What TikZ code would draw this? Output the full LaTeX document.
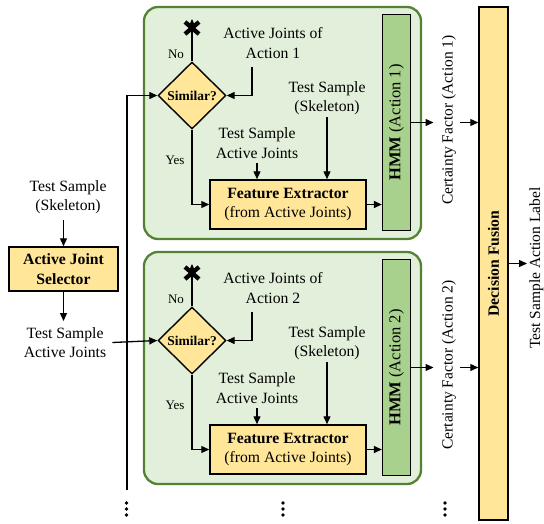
\documentclass[tikz,border=0pt]{standalone}
\usepackage{fontspec}
\setmainfont{Liberation Serif}
\usetikzlibrary{arrows.meta,shapes.geometric}
\definecolor{panelfill}{HTML}{E2EFDA}
\definecolor{paneledge}{HTML}{548235}
\definecolor{hmmfill}{HTML}{A9D18E}
\definecolor{boxfill}{HTML}{FFE699}
\begin{document}
\begin{tikzpicture}[x=1pt,y=-1pt,
  txt/.style={font=\fontsize{15.7}{19.5}\selectfont, align=center, inner sep=0pt},
  lbl/.style={font=\fontsize{13}{15}\selectfont, inner sep=0pt},
  yelbox/.style={draw=black, line width=1.5pt, fill=boxfill, inner sep=0pt,
    align=center, font=\fontsize{15.7}{19.5}\selectfont},
  panel/.style={draw=paneledge, fill=panelfill, line width=2.3pt, rounded corners=14pt},
  hmmbox/.style={draw=black, line width=1.3pt, fill=hmmfill, inner sep=0pt,
    minimum width=28pt, minimum height=216pt, font=\fontsize{16.5}{19}\selectfont},
  decision/.style={diamond, draw=black, line width=1.4pt, fill=boxfill, inner sep=0pt,
    minimum width=68pt, minimum height=67pt},
  conn/.style={line width=1.3pt, -{Triangle[length=8pt,width=7pt]}},
  cross/.style={line width=4.3pt},
  vtxt/.style={rotate=90, anchor=base, inner sep=0pt, font=\fontsize{15.5}{19.5}\selectfont},
]
\useasboundingbox (0,0) rectangle (544,523);

% left column: active joint selection
\node[txt] (skel) at (68,197) {Test Sample\\(Skeleton)};
\node[yelbox, minimum width=109pt, minimum height=44pt] (ajs) at (63.5,269)
  {\textbf{Active Joint}\\\textbf{Selector}};
\node[txt] (tsaj) at (65,342.5) {Test Sample\\Active Joints};
\draw[conn] (skel.south -| ajs) ++(0,6) -- (ajs.north);
\coordinate (ajsout) at (63.5,321);
\draw[conn] (ajs.south) -- (ajsout);

% one panel per action model
\foreach \i/\o in {1/0,2/245}{
  \path[panel] (144,7+\o) rectangle (421,239+\o);
  \node[decision] (sim\i) at (192,95.5+\o) {};
  \node[lbl, font=\fontsize{13.5}{15}\selectfont\bfseries] (simtxt\i) at (sim\i) {Similar?};
  \node[yelbox, minimum width=156pt, minimum height=49pt] (fe\i) at (288,204.5+\o)
    {\textbf{Feature Extractor}\\(from Active Joints)};
  \node[hmmbox] (hmm\i) at (396.5,122.5+\o)
    {\rotatebox{90}{\textbf{HMM} (Action \i)}};
  \node[txt] (aj\i) at (273,43+\o) {Active Joints of\\Action \i};
  \node[txt] (sk\i) at (327,98+\o) {Test Sample\\(Skeleton)};
  \node[txt] (ts\i) at (257,143+\o) {Test Sample\\Active Joints};
  \node[lbl] (no\i) at (176,54+\o) {No};
  \node[lbl] (yes\i) at (175,160+\o) {Yes};
  % rejection mark
  \coordinate (rej\i) at (192,28+\o);
  \draw[cross] ([shift={(-7,-6)}]rej\i) -- ([shift={(7,6)}]rej\i);
  \draw[cross] ([shift={(-7,6)}]rej\i) -- ([shift={(7,-6)}]rej\i);
  \draw[conn] (sim\i.north) -- ([yshift=9]rej\i);
  \coordinate (ajout\i) at (252,67+\o);
  \draw[conn] (ajout\i) |- (sim\i.east);
  \draw[conn] (327,117+\o) -- (fe\i.north -| 327,0);
  \draw[conn] (257,163+\o) -- (fe\i.north -| 257,0);
  \draw[conn] (sim\i.south) |- (fe\i.west);
  \draw[conn] (fe\i.east) -- (fe\i.east -| hmm\i.west);
  % certainty factor output
  \node[vtxt] (cf\i) at (452.5,120+\o) {Certainty Factor (Action \i)};
  \coordinate (cfa\i) at (433.5,122.5+\o);
  \coordinate (cfb\i) at (460,122.5+\o);
  \draw[conn] (hmm\i.east) -- (cfa\i);
}

% input bus
\coordinate (busbot) at (127,490);
\draw[conn] (busbot) |- (sim1.west);
\draw[conn] ([xshift=6]tsaj.east) -- (sim2.west);

% fusion stage
\node[yelbox, minimum width=29pt, minimum height=513pt] (df) at (493.5,263.5)
  {\rotatebox{90}{\textbf{Decision Fusion}}};
\draw[conn] (cfb1) -- (cfb1 -| df.west);
\draw[conn] (cfb2) -- (cfb2 -| df.west);
\coordinate (dfout) at (527,263.5);
\draw[conn] (df.east) -- (dfout);
\node[vtxt] (label) at (540,268) {Test Sample Action Label};

% continuation dots
\foreach \x in {126.5,283,445}{
  \foreach \y in {503,509,515}{
    \fill (\x,\y) circle (1.8);
  }
}
\end{tikzpicture}
\end{document}
